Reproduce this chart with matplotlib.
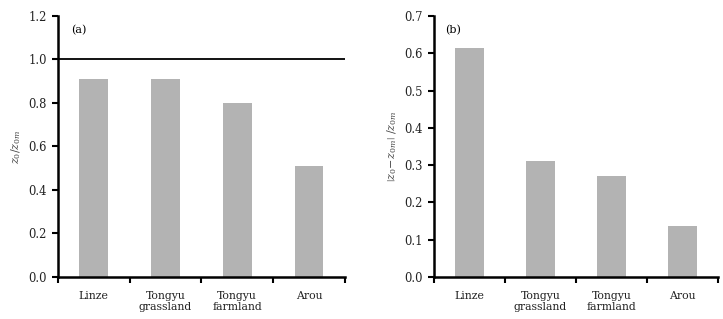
import numpy as np
import matplotlib.pyplot as plt

plt.rcParams['font.family'] = ['DejaVu Serif']
plt.rcParams['mathtext.fontset'] = 'dejavuserif'

# datos
sitios = ["Linze", "Tongyu\ngrassland", "Tongyu\nfarmland", "Arou"]
ratio_a = [0.91, 0.91, 0.80, 0.51]
ratio_b = [0.614, 0.311, 0.271, 0.137]

fig = plt.figure(figsize=(7.23, 3.19), dpi=100)
ax1 = fig.add_axes([0.080, 0.132, 0.397, 0.818])
ax2 = fig.add_axes([0.600, 0.132, 0.393, 0.818])

x = np.arange(len(sitios))


def estilo(ax, ymax, paso):
    ax.set_xlim(-0.5, len(sitios) - 0.5)
    ax.set_ylim(0, ymax)
    ax.set_yticks(np.arange(0, ymax + 1e-9, paso))
    ax.yaxis.set_major_formatter(plt.FormatStrFormatter('%.1f'))
    ax.set_xticks(x)
    ax.set_xticklabels(sitios, fontsize=7.8, color='#222222')
    ax.set_xticks(np.arange(-0.5, len(sitios), 1.0), minor=True)
    ax.tick_params(axis='x', which='major', length=0, pad=10)
    ax.tick_params(axis='x', which='minor', length=4, width=1.5, direction='out')
    ax.tick_params(axis='y', length=4, width=1.5, direction='out', labelsize=8.3,
                   labelcolor='#222222', pad=4)
    for s in ['top', 'right']:
        ax.spines[s].set_visible(False)
    for s in ['left', 'bottom']:
        ax.spines[s].set_linewidth(1.8)


# (a)
ax1.bar(x, ratio_a, width=0.4, color='#b3b3b3')
ax1.axhline(1.0, color='black', lw=1.3)
estilo(ax1, 1.2, 0.2)
ax1.set_ylabel(r'$z_0/z_{0m}$', fontsize=8, color='#444444')
ax1.text(0.045, 0.945, '(a)', transform=ax1.transAxes, fontsize=8, va='center')

# (b)
ax2.bar(x, ratio_b, width=0.4, color='#b3b3b3')
estilo(ax2, 0.7, 0.1)
ax2.set_ylabel(r'$\left|z_0\!-\!z_{0m}\right|\ /z_{0m}$', fontsize=8, color='#444444')
ax2.text(0.04, 0.945, '(b)', transform=ax2.transAxes, fontsize=8, va='center')

plt.savefig("out.png", format="png")
